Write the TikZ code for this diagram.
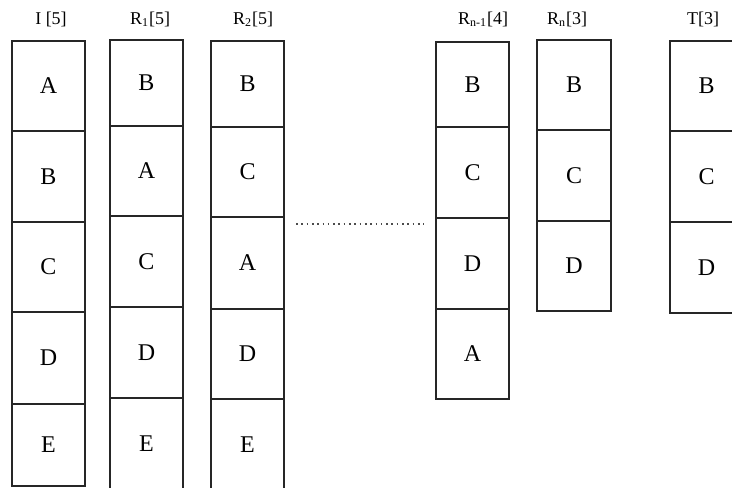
\documentclass[tikz,border=0pt]{standalone}
\usepackage{fontspec}
\setmainfont{Liberation Serif}

\begin{document}
\begin{tikzpicture}[x=0.5pt,y=-0.5pt,
    cell/.style={draw=black!85,line width=0.55pt},
    letter/.style={font=\fontsize{12}{14}\selectfont},
    head/.style={anchor=base,font=\fontsize{9}{11}\selectfont},
    dotline/.style={draw=black!70,line width=0.8pt,dash pattern=on 0.8pt off 1.85pt}]
  \useasboundingbox (0,0) rectangle (732,487);
  \clip (0,0) rectangle (732,487);
  % I
  \foreach \t/\b/\c [count=\k] in {41/131/A,131/222/B,222/312/C,312/404/D,404/486/E}{
    \draw[cell] (12,\t) rectangle (85,\b);
    \node[letter] (I\k) at (48.5,{(\t+\b)/2}) {\c};
  }
  \node[head] (hI) at (51,25) {I [5]};
  % R1
  \foreach \t/\b/\c [count=\k] in {40/126/B,126/216/A,216/307/C,307/398/D,398/490/E}{
    \draw[cell] (110,\t) rectangle (183,\b);
    \node[letter] (Ra\k) at (146.5,{(\t+\b)/2}) {\c};
  }
  \node[head] (hRa) at (150,25) {R\textsubscript{1}[5]};
  % R2
  \foreach \t/\b/\c [count=\k] in {41/127/B,127/217/C,217/309/A,309/399/D,399/490/E}{
    \draw[cell] (211,\t) rectangle (284,\b);
    \node[letter] (Rb\k) at (247.5,{(\t+\b)/2}) {\c};
  }
  \node[head] (hRb) at (253,25) {R\textsubscript{2}[5]};
  % dots between
  \coordinate (dl) at (296,224);
  \coordinate (dr) at (424,224);
  \draw[dotline] (dl) -- (dr);
  % R n-1
  \foreach \t/\b/\c [count=\k] in {42/127/B,127/218/C,218/309/D,309/399/A}{
    \draw[cell] (436,\t) rectangle (509,\b);
    \node[letter] (Rm\k) at (472.5,{(\t+\b)/2}) {\c};
  }
  \node[head] (hRm) at (483,25) {R\textsubscript{n-1}[4]};
  % R n
  \foreach \t/\b/\c [count=\k] in {40/130/B,130/221/C,221/311/D}{
    \draw[cell] (537,\t) rectangle (611,\b);
    \node[letter] (Rn\k) at (574,{(\t+\b)/2}) {\c};
  }
  \node[head] (hRn) at (567,25) {R\textsubscript{n}[3]};
  % T
  \foreach \t/\b/\c [count=\k] in {41/131/B,131/222/C,222/313/D}{
    \draw[cell] (670,\t) rectangle (743,\b);
    \node[letter] (T\k) at (706.5,{(\t+\b)/2}) {\c};
  }
  \node[head] (hT) at (703,25) {T[3]};
\end{tikzpicture}
\end{document}
